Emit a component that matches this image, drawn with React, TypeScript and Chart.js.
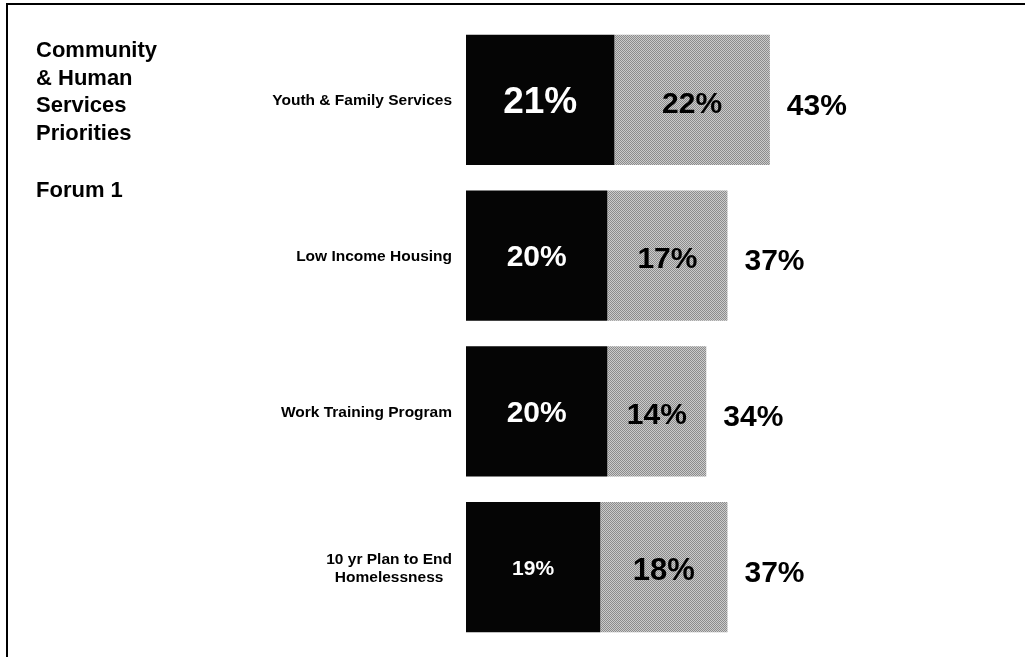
import React, { useEffect, useRef } from 'react';
import { Chart, registerables } from 'chart.js';

Chart.register(...registerables);

const categories: string[][] = [
  ['Youth & Family Services'],
  ['Low Income Housing'],
  ['Work Training Program'],
  ['10 yr Plan to End', 'Homelessness'],
];
const firstShare = [21, 20, 20, 19];
const secondShare = [22, 17, 14, 18];
const totals = [43, 37, 34, 37];
const titleLines = ['Community', '& Human', 'Services', 'Priorities'];
const subtitle = 'Forum 1';

const FF = '"Liberation Sans", Arial, Helvetica, sans-serif';
const firstLabelSize = [37, 30, 30, 21];
const secondLabelSize = [30, 30, 30, 31];
const totalLabelSize = [30, 30, 30, 30];
const categoryFontSize = 15.5;

function drawCentered(ctx: CanvasRenderingContext2D, text: string, x: number, cy: number, size: number, align: CanvasTextAlign) {
  ctx.font = `bold ${size}px ${FF}`;
  ctx.textAlign = align;
  ctx.textBaseline = 'alphabetic';
  ctx.fillText(text, x, cy + size * 0.716 / 2);
}

const overlayPlugin = {
  id: 'overlayText',
  beforeDraw(chart: any) {
    const ctx: CanvasRenderingContext2D = chart.ctx;
    ctx.save();
    ctx.fillStyle = '#ffffff';
    ctx.fillRect(0, 0, chart.width, chart.height);
    ctx.strokeStyle = '#000000';
    ctx.lineWidth = 2;
    ctx.beginPath();
    ctx.moveTo(6, 4);
    ctx.lineTo(chart.width, 4);
    ctx.moveTo(7, 3);
    ctx.lineTo(7, chart.height);
    ctx.stroke();
    ctx.restore();
  },
  afterDatasetsDraw(chart: any) {
    const ctx: CanvasRenderingContext2D = chart.ctx;
    ctx.save();
    ctx.fillStyle = '#000000';
    // Title block
    ctx.font = `bold 22px ${FF}`;
    ctx.textAlign = 'left';
    ctx.textBaseline = 'alphabetic';
    titleLines.forEach((t, i) => ctx.fillText(t, 36, 57 + i * 27.7));
    ctx.fillText(subtitle, 36, 197);

    // Category labels
    const yScale = chart.scales.y;
    ctx.font = `bold ${categoryFontSize}px ${FF}`;
    categories.forEach((lines, i) => {
      const cy = yScale.getPixelForValue(i);
      const w = Math.max(...lines.map((l) => ctx.measureText(l).width));
      const cx = 452 - w / 2;
      ctx.textAlign = 'center';
      ctx.textBaseline = 'alphabetic';
      const lh = 18;
      lines.forEach((l, j) => {
        const lineCy = cy + (j - (lines.length - 1) / 2) * lh;
        ctx.fillText(l, cx, lineCy + categoryFontSize * 0.716 / 2);
      });
    });

    // Value labels
    const m0 = chart.getDatasetMeta(0);
    const m1 = chart.getDatasetMeta(1);
    m0.data.forEach((el: any, i: number) => {
      ctx.fillStyle = '#ffffff';
      drawCentered(ctx, `${firstShare[i]}%`, (el.x + el.base) / 2, el.y, firstLabelSize[i], 'center');
    });
    m1.data.forEach((el: any, i: number) => {
      ctx.fillStyle = '#000000';
      drawCentered(ctx, `${secondShare[i]}%`, (el.x + el.base) / 2, el.y + 2, secondLabelSize[i], 'center');
      drawCentered(ctx, `${totals[i]}%`, el.x + 17, el.y + 4, totalLabelSize[i], 'left');
    });
    ctx.restore();
  },
};

function makeStipple(): CanvasPattern | string {
  const c = document.createElement('canvas');
  c.width = 2;
  c.height = 2;
  const g = c.getContext('2d');
  if (!g) return '#a9a9a9';
  g.fillStyle = '#cbcbcb';
  g.fillRect(0, 0, 2, 2);
  g.fillStyle = '#8c8c8c';
  g.fillRect(0, 0, 1, 1);
  g.fillRect(1, 1, 1, 1);
  const p = g.createPattern(c, 'repeat');
  return p || '#a9a9a9';
}

export default function App() {
  const canvasRef = useRef<HTMLCanvasElement | null>(null);

  useEffect(() => {
    document.body.style.margin = '0';
    const canvas = canvasRef.current;
    if (!canvas) return;
    const chart = new Chart(canvas, {
      type: 'bar',
      data: {
        labels: categories.map((c) => c.join(' ')),
        datasets: [
          {
            label: 'First',
            data: firstShare,
            backgroundColor: '#050505',
            borderWidth: 0,
            barPercentage: 0.835,
            categoryPercentage: 1,
          },
          {
            label: 'Second',
            data: secondShare,
            backgroundColor: makeStipple() as any,
            borderWidth: 0,
            barPercentage: 0.835,
            categoryPercentage: 1,
          },
        ],
      },
      options: {
        indexAxis: 'y',
        animation: false,
        responsive: false,
        maintainAspectRatio: false,
        layout: { padding: { left: 466, right: 135, top: 22, bottom: 12 } },
        plugins: {
          legend: { display: false },
          tooltip: { enabled: false },
          title: { display: false },
        },
        scales: {
          x: { stacked: true, min: 0, max: 60, display: false },
          y: { stacked: true, display: false },
        },
      },
      plugins: [overlayPlugin],
    });
    return () => chart.destroy();
  }, []);

  return (
    <div style={{ position: 'absolute', left: 0, top: 0, width: 1025, height: 657 }}>
      <canvas ref={canvasRef} width={1025} height={657} style={{ width: 1025, height: 657, display: 'block' }} />
    </div>
  );
}
